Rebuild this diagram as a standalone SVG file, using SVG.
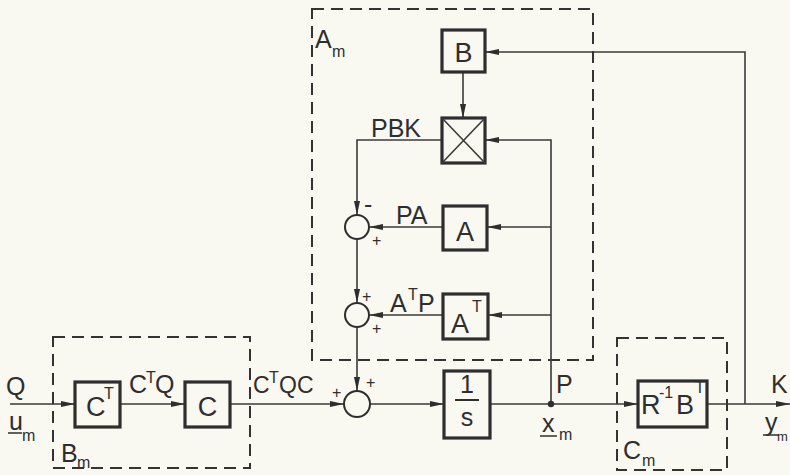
<svg xmlns="http://www.w3.org/2000/svg" width="790" height="475" viewBox="0 0 790 475">
<defs>
<marker id="ar" viewBox="0 0 14 8" refX="14" refY="4" markerWidth="14" markerHeight="8" markerUnits="userSpaceOnUse" orient="auto">
<path d="M0,1 L14,4 L0,7 Z" fill="#2e2e2e"/>
</marker>
<style>
.bx{fill:none;stroke:#2e2e2e;stroke-width:3.2}
.ds{fill:none;stroke:#333;stroke-width:2;stroke-dasharray:12 7}
.ln{fill:none;stroke:#3a3a3a;stroke-width:1.6}
.ar{marker-end:url(#ar)}
.sm{fill:none;stroke:#2e2e2e;stroke-width:2}
text{font-family:"Liberation Sans","DejaVu Sans",sans-serif;fill:#2e2e2e}
.t{font-size:25px}
.n{font-size:23px}
.b{font-size:27px}
.s{font-size:13px}
.p{font-size:16px}
</style>
</defs>
<rect width="790" height="475" fill="#f9f8f1"/>

<g id="groups">
<rect id="Am" class="ds" x="312" y="9" width="281" height="351"/>
<rect id="Bm" class="ds" x="53" y="337" width="197" height="131"/>
<rect id="Cm" class="ds" x="617" y="338" width="110" height="132"/>
</g>

<g id="connectors">
<path class="ln ar" d="M10,404 H75"/>
<path class="ln ar" d="M120,404 H185"/>
<path class="ln ar" d="M230,404 H344"/>
<path class="ln ar" d="M370,404 H444"/>
<path class="ln ar" d="M490,404 H638"/>
<path class="ln ar" d="M707,404 H790"/>
<path class="ln ar" d="M745,404 V52 H485"/>
<path class="ln ar" d="M463,72 V118"/>
<path class="ln ar" d="M551,404 V140 H485"/>
<path class="ln ar" d="M551,227 H487"/>
<path class="ln ar" d="M551,315 H488"/>
<path class="ln ar" d="M443,227 H369"/>
<path class="ln ar" d="M443,315 H369"/>
<path class="ln ar" d="M442,140 H357 V215"/>
<path class="ln ar" d="M357,239 V303"/>
<path class="ln ar" d="M357,327 V391"/>
<circle cx="551" cy="404" r="3.2" fill="#2e2e2e"/>
</g>

<g id="nodeB"><rect class="bx" x="442" y="30" width="43" height="42"/><text class="b" x="463.5" y="62" text-anchor="middle">B</text></g>
<g id="nodeMul"><rect class="bx" x="442" y="118" width="43" height="45"/><path class="ln" d="M442,118 L485,163 M485,118 L442,163"/></g>
<g id="nodeA"><rect class="bx" x="443" y="206" width="44" height="44"/><text class="b" x="465" y="241" text-anchor="middle">A</text></g>
<g id="nodeAT"><rect class="bx" x="443" y="294" width="45" height="45"/><text class="b" x="460" y="333" text-anchor="middle">A</text><text class="p" x="472" y="312">T</text></g>
<g id="sum1"><circle class="sm" cx="357" cy="227" r="12"/><text class="t" x="364" y="213">-</text><text class="p" x="372" y="246">+</text></g>
<g id="sum2"><circle class="sm" cx="357" cy="315" r="12"/><text class="p" x="362" y="302">+</text><text class="p" x="372" y="334">+</text></g>
<g id="sum3"><circle class="sm" cx="357" cy="404" r="13"/><text class="p" x="332" y="398">+</text><text class="p" x="366" y="388">+</text></g>
<g id="integ"><rect class="bx" x="444" y="371" width="46" height="67"/><text class="t" x="467" y="393" text-anchor="middle">1</text><path d="M455,400 H479" stroke="#2e2e2e" stroke-width="2"/><text class="t" x="467" y="426" text-anchor="middle">s</text></g>
<g id="nodeCT"><rect class="bx" x="75" y="382" width="45" height="45"/><text class="b" x="86" y="416">C</text><text class="p" x="104" y="399">T</text></g>
<g id="nodeC"><rect class="bx" x="185" y="382" width="45" height="45"/><text class="b" x="207.5" y="416" text-anchor="middle">C</text></g>
<g id="nodeRB"><rect class="bx" x="638" y="381" width="69" height="46"/><text class="b" x="641" y="414">R</text><text class="p" x="659" y="398">-1</text><text class="b" x="676" y="414">B</text><text class="p" x="695" y="393">T</text></g>

<g id="labels">
<text class="t" x="315" y="48">A</text><text class="p" x="332" y="57">m</text>
<text class="t" x="371" y="137">PBK</text>
<text class="t" x="396" y="224">PA</text>
<text class="t" x="390" y="312">A</text><text class="p" x="408" y="300">T</text><text class="t" x="418" y="312">P</text>
<text class="t" x="6" y="395">Q</text>
<text class="t" x="9" y="430">u</text><path class="ln" d="M8,433 H22"/><text class="p" x="22" y="441">m</text>
<text class="t" x="129" y="393">C</text><text class="p" x="146" y="383">T</text><text class="t" x="155" y="393">Q</text>
<text class="n" x="253" y="393">C</text><text class="p" x="269" y="383">T</text><text class="n" x="279" y="393">QC</text>
<text class="t" x="61" y="462">B</text><text class="p" x="77" y="468">m</text>
<text class="t" x="556" y="393">P</text>
<text class="t" x="542" y="432">x</text><path class="ln" d="M540,436 H557"/><text class="p" x="559" y="440">m</text>
<text class="t" x="623" y="459">C</text><text class="p" x="642" y="466">m</text>
<text class="t" x="771" y="393">K</text>
<text class="t" x="765" y="431">y</text><path class="ln" d="M763,435 H779"/><text class="s" x="777" y="441">m</text>
</g>
</svg>
